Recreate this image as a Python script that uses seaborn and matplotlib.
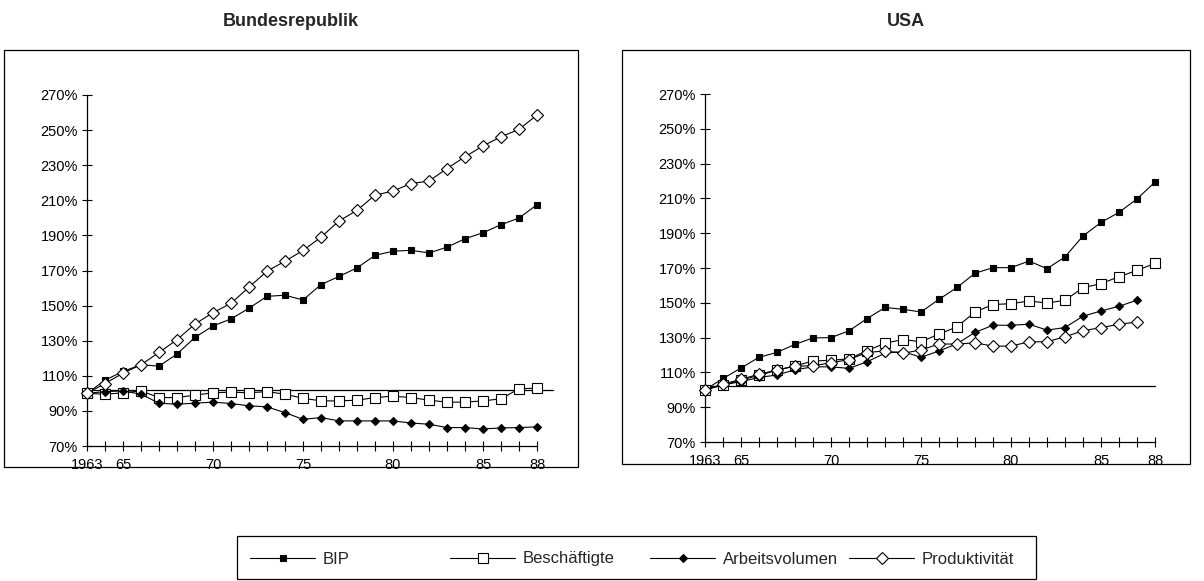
import matplotlib
matplotlib.use("Agg")
import matplotlib.pyplot as plt
import seaborn as sns
from matplotlib.patches import Rectangle
from matplotlib.lines import Line2D
from matplotlib.ticker import FuncFormatter

# ---------------- data ----------------
years_de = list(range(1963, 1989))          # 26 years
years_us_long = list(range(1963, 1989))     # BIP, Beschäftigte (USA)
years_us_short = list(range(1963, 1988))    # Arbeitsvolumen, Produktivität (USA)

de_bip = [100, 107.5, 112.5, 116.3, 115.5, 122.4, 131.9, 138.4, 142.4, 148.5, 155.3, 155.9, 153.2,
          162, 166.6, 171.5, 178.6, 181, 181.5, 180, 183.3, 188.1, 191.5, 196.1, 199.9, 207.5]
de_besch = [100, 99.5, 100.3, 101.4, 97.6, 97.6, 99, 100.3, 100.7, 100.3, 101, 99.5, 97.2,
            95.7, 95.7, 96.1, 97.6, 98.4, 97.6, 96.1, 95, 95, 95.7, 96.9, 102.6, 103]
de_arbeit = [100, 101, 101.4, 99.5, 94.4, 93.8, 94.4, 95, 94.2, 92.9, 92.3, 89, 85.2,
             86.2, 84.3, 84.3, 84.3, 84.3, 83.1, 82.4, 80.5, 80.5, 79.7, 80.3, 80.5, 80.9]
de_prod = [100, 105.6, 111.5, 116.3, 123.3, 130.6, 139.5, 146, 151.3, 160.5, 169.6, 175.3, 181.4,
           189, 198.2, 204.3, 212.9, 215.3, 219.5, 221, 228.1, 234.8, 241, 246.2, 250.4, 258.6]

us_bip = [100, 106.5, 112.5, 118.7, 121.5, 126.1, 129.8, 130, 133.9, 140.9, 147.3, 146.3, 144.7,
          152, 158.8, 167, 170.2, 170.2, 174, 169.6, 176.4, 188.4, 196.2, 202, 209.7, 219.4]
us_besch = [100, 102.8, 105.6, 108.3, 111.3, 113.8, 116.5, 117, 117.8, 122.4, 126.8, 128.9, 127.6,
            132, 136.2, 144.7, 149, 149.5, 151, 149.9, 151.4, 158.7, 161, 165, 168.6, 172.7]
us_arbeit = [100, 102.8, 104.7, 107.1, 108.5, 111.5, 113.2, 113.2, 112.3, 116.1, 121, 122, 118.7,
             122.3, 126.5, 133, 137.1, 137.1, 137.7, 134.3, 135.8, 142.3, 145.3, 148, 151.5]
us_prod = [100, 103.3, 106, 109, 111.3, 113.6, 113.8, 115.5, 117.4, 121.4, 122.4, 121, 122.9,
           126.3, 126.3, 127, 125.1, 125.1, 127.6, 127.6, 130.5, 133.9, 135.8, 137.6, 139]

series_names = ["BIP", "Beschäftigte", "Arbeitsvolumen", "Produktivität"]
panel_titles = ["Bundesrepublik", "USA"]
ytick_values = [70, 90, 110, 130, 150, 170, 190, 210, 230, 250, 270]
xtick_years = [1963, 1965, 1970, 1975, 1980, 1985, 1988]
xtick_text = ["1963", "65", "70", "75", "80", "85", "88"]
reference_level = 102

# ---------------- style ----------------
sns.set_theme(style="white")
plt.rcParams['font.family'] = ['Liberation Sans', 'DejaVu Sans']

styles = {
    "BIP": dict(marker="s", markersize=5, markerfacecolor="black"),
    "Beschäftigte": dict(marker="s", markersize=7, markerfacecolor="white"),
    "Arbeitsvolumen": dict(marker="D", markersize=4, markerfacecolor="black"),
    "Produktivität": dict(marker="D", markersize=6.5, markerfacecolor="white"),
}

W, H = 1204, 581
fig = plt.figure(figsize=(W / 100, H / 100), dpi=100)


def fx(px):
    return px / W


def fy(py):
    return 1 - py / H


# panel frames
fig.patches.append(Rectangle((fx(4), fy(467)), fx(578 - 4), (467 - 50) / H, fill=False,
                             edgecolor="black", linewidth=0.9, transform=fig.transFigure))
fig.patches.append(Rectangle((fx(622), fy(464)), fx(1190 - 622), (464 - 50) / H, fill=False,
                             edgecolor="black", linewidth=0.9, transform=fig.transFigure))

ax_de = fig.add_axes([fx(87), fy(446), fx(537 - 87), (446 - 95) / H])
ax_us = fig.add_axes([fx(705), fy(442), fx(1155 - 705), (442 - 94) / H])

panels = [
    (ax_de, [(years_de, de_bip), (years_de, de_besch), (years_de, de_arbeit), (years_de, de_prod)], 1.035),
    (ax_us, [(years_us_long, us_bip), (years_us_long, us_besch), (years_us_short, us_arbeit),
             (years_us_short, us_prod)], 1.0),
]

for (ax, data, ref_end), title, cx in zip(panels, panel_titles, [(4 + 578) / 2, (622 + 1190) / 2]):
    for name, (xs, ys) in zip(series_names, data):
        sns.lineplot(x=xs, y=ys, ax=ax, color="black", linewidth=0.8, errorbar=None,
                     markeredgecolor="black", markeredgewidth=0.8, clip_on=False,
                     legend=False, zorder=3, **styles[name])
    ax.axhline(reference_level, xmin=0, xmax=ref_end, color="black", linewidth=0.9,
               clip_on=False, zorder=2)
    ax.set_xlim(1963, 1988)
    ax.set_ylim(70, 270)
    ax.set_yticks(ytick_values)
    ax.yaxis.set_major_formatter(FuncFormatter(lambda v, _: f"{v:.0f}%"))
    all_years = list(range(1963, 1989))
    ax.set_xticks(all_years)
    ax.set_xticklabels([xtick_text[xtick_years.index(y)] if y in xtick_years else "" for y in all_years])
    ax.tick_params(axis="both", direction="inout", length=7, width=0.8, color="black",
                   labelsize=10.5, labelcolor="black", bottom=True, left=True)
    ax.tick_params(axis="x", pad=5)
    ax.tick_params(axis="y", pad=3)
    for s in ["top", "right"]:
        ax.spines[s].set_visible(False)
    for s in ["left", "bottom"]:
        ax.spines[s].set_color("black")
        ax.spines[s].set_linewidth(0.9)
    ax.set_xlabel("")
    ax.set_ylabel("")
    ax.set_facecolor("none")
    fig.text(fx(cx), fy(21), title, ha="center", va="center", fontsize=13, fontweight="bold")

# legend box
fig.patches.append(Rectangle((fx(237), fy(579)), fx(1036 - 237), (579 - 536) / H, fill=False,
                             edgecolor="black", linewidth=0.9, transform=fig.transFigure))
legend_x = [250, 450, 650, 849]
for name, lx in zip(series_names, legend_x):
    h = Line2D([], [], color="black", linewidth=0.8, markeredgecolor="black",
               markeredgewidth=0.8, **styles[name])
    fig.legend(handles=[h], labels=[name], loc="center left", bbox_to_anchor=(fx(lx), fy(559)),
               frameon=False, handlelength=3.9, handletextpad=0.45, fontsize=12,
               borderpad=0, borderaxespad=0)

fig.savefig("out.png", dpi=100, facecolor="white")
